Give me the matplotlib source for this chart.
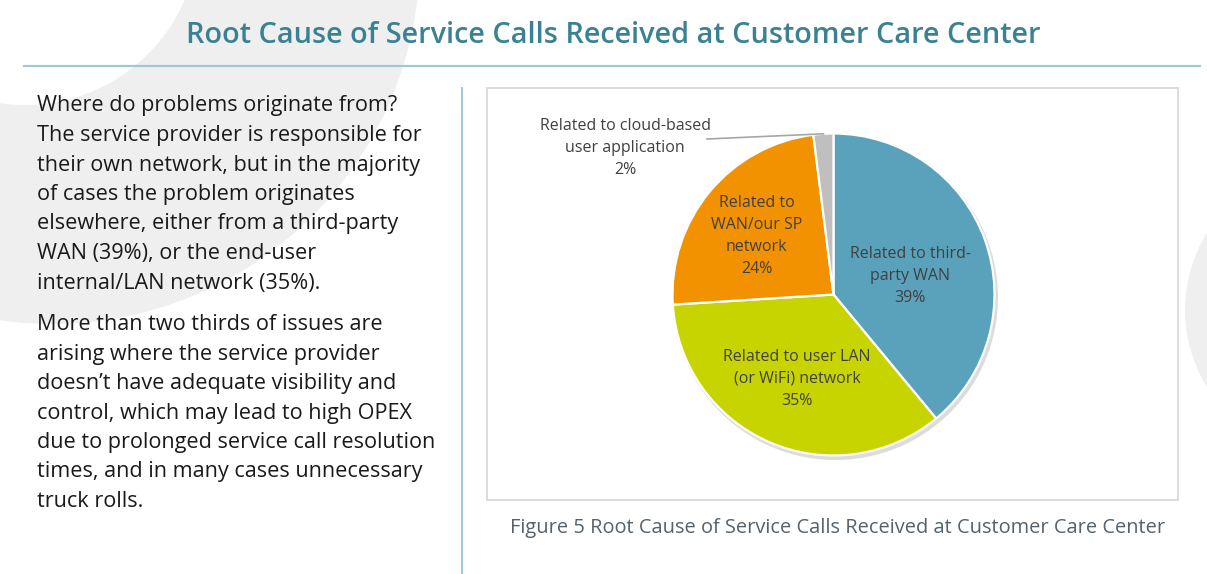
import numpy as np
import matplotlib.pyplot as plt
from matplotlib.patches import Circle, Rectangle

W, H = 1207, 574

title = 'Root Cause of Service Calls Received at Customer Care Center'
caption = 'Figure 5 Root Cause of Service Calls Received at Customer Care Center'

para1 = ['Where do problems originate from?',
         'The service provider is responsible for',
         'their own network, but in the majority',
         'of cases the problem originates',
         'elsewhere, either from a third-party',
         'WAN (39%), or the end-user',
         'internal/LAN network (35%).']
para2 = ['More than two thirds of issues are',
         'arising where the service provider',
         'doesn\u2019t have adequate visibility and',
         'control, which may lead to high OPEX',
         'due to prolonged service call resolution',
         'times, and in many cases unnecessary',
         'truck rolls.']

# pie data
labels = ['Related to third-\nparty WAN',
          'Related to user LAN\n(or WiFi) network',
          'Related to\nWAN/our SP\nnetwork',
          'Related to cloud-based\nuser application']
shares = [39, 35, 24, 2]
colors = ['#5aa2bb', '#c8d400', '#f29200', '#bfbfbf']
# label placement inside wedges: radius fraction and angle tweak (deg)
label_r = [0.49, 0.57, 0.60, None]
label_turn = [-6, 0, 2.2, 0]

plt.rcParams['font.family'] = ['Open Sans', 'DejaVu Sans']

fig = plt.figure(figsize=(W / 100, H / 100), dpi=100)
ax = fig.add_axes([0, 0, 1, 1])


def Y(y):
    return H - y


# background decoration (light grey crescent and circle)
ax.add_patch(Circle((52, Y(-44)), 368, color='#efefef', zorder=0, lw=0))
ax.add_patch(Circle((25, Y(-69)), 174, color='white', zorder=0, lw=0))
ax.add_patch(Circle((1331, Y(310)), 146, color='#efefef', zorder=0, lw=0))

# title and rules
ax.text(613, Y(35.5), title, ha='center', va='center', fontsize=20.8,
        fontweight='semibold', color='#3a8293', zorder=3)
ax.plot([24, 1200], [Y(66), Y(66)], color='#9fc9d6', lw=1.6, zorder=2)
ax.plot([462, 462], [Y(88), Y(574)], color='#9fc9d6', lw=1.4, zorder=2)

# left text
for i, line in enumerate(para1):
    ax.text(37, Y(106 + i * 29.5), line, ha='left', va='center',
            fontsize=15.6, color='#1a1a1a', zorder=3)
for i, line in enumerate(para2):
    ax.text(37, Y(325 + i * 29.4), line, ha='left', va='center',
            fontsize=15.6, color='#1a1a1a', zorder=3)

# chart box
ax.add_patch(Rectangle((487, Y(500)), 1178 - 487, 500 - 88, fc='white',
                       ec='#d9d9d9', lw=1.3, zorder=1))
ax.text(838, Y(528.5), caption, ha='center', va='center', fontsize=14.4,
        color='#55626b', zorder=3)

cx, cy, r = 833.5, Y(294.5), 161
ax.add_patch(Circle((cx + 2, cy - 3), r + 1.5, color='#dcdcdc', zorder=1.5, lw=0))
wedges, _ = ax.pie(shares, colors=colors, startangle=90, counterclock=False,
                   center=(cx, cy), radius=r,
                   wedgeprops=dict(edgecolor='white', linewidth=1.6))
for w in wedges:
    w.set_zorder(2)

for w, lab, s, lr, turn in zip(wedges, labels, shares, label_r, label_turn):
    mid = np.deg2rad((w.theta1 + w.theta2) / 2 + turn)
    txt = f'{lab}\n{s}%'
    if lr is not None:
        ax.text(cx + lr * r * np.cos(mid), cy + lr * r * np.sin(mid), txt,
                ha='center', va='center', fontsize=11.5, color='#404040',
                linespacing=1.5, zorder=3)
    else:
        ex, ey = cx + r * np.cos(mid), cy + r * np.sin(mid)
        ax.plot([ex, 707], [ey, Y(139)], color='#a6a6a6', lw=1.2, zorder=3)
        ax.text(625, Y(147.5), txt, ha='center', va='center', fontsize=11.5,
                color='#404040', linespacing=1.5, zorder=3)

ax.set_xlim(0, W)
ax.set_ylim(0, H)
ax.set_aspect('auto')
ax.axis('off')

fig.savefig('out.png', dpi=100)
